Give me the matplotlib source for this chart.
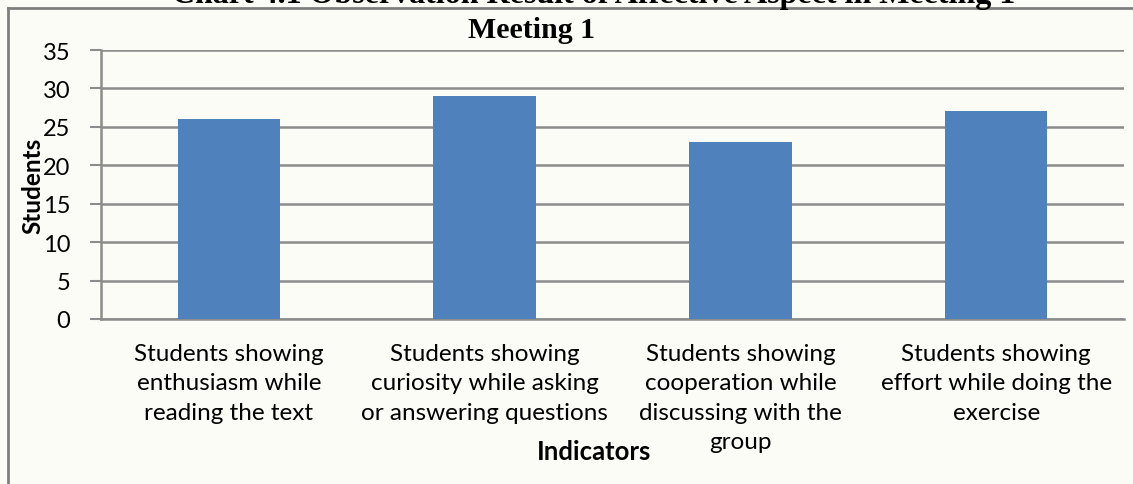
import matplotlib
matplotlib.use("Agg")
import matplotlib.pyplot as plt
from matplotlib.lines import Line2D

indicators = [
    "Students showing\nenthusiasm while\nreading the text",
    "Students showing\ncuriosity while asking\nor answering questions",
    "Students showing\ncooperation while\ndiscussing with the\ngroup",
    "Students showing\neffort while doing the\nexercise",
]
students = [26, 29, 23, 27]
yticks = [0, 5, 10, 15, 20, 25, 30, 35]

bg = "#fcfcf6"
bar_color = "#4f81bd"
grid_color = "#8c8c8c"

plt.rcParams["font.family"] = ["Lato", "DejaVu Sans"]

fig = plt.figure(figsize=(11.33, 4.85), dpi=100, facecolor=bg)
ax = fig.add_axes([101 / 1133, 1 - 320 / 485, 1023 / 1133, 269 / 485])
ax.set_facecolor(bg)

x = list(range(len(students)))
ax.bar(x, students, width=0.40, color=bar_color, zorder=3)

ax.set_xlim(-0.5, len(students) - 0.5)
ax.set_ylim(0, 35)
ax.set_yticks(yticks)
ax.yaxis.grid(True, color=grid_color, linewidth=1.8, zorder=0)
ax.set_axisbelow(True)

ax.set_xticks(x)
ax.set_xticklabels(indicators, fontsize=17.5, linespacing=1.5)
ax.tick_params(axis="x", length=0, pad=17)
ax.tick_params(axis="y", length=8, width=1.5, color=grid_color, labelsize=17, pad=14)

for side in ["top", "right"]:
    ax.spines[side].set_visible(False)
ax.spines["left"].set_color(grid_color)
ax.spines["left"].set_linewidth(1.8)
ax.spines["bottom"].set_color(grid_color)
ax.spines["bottom"].set_linewidth(1.8)

ax.set_ylabel("Students", fontsize=17.5, fontweight="bold")
ax.yaxis.set_label_coords(-0.0665, 0.5)
ax.yaxis.label.set_va("center")
ax.set_xlabel("Indicators", fontsize=18.5, fontweight="bold")
ax.xaxis.set_label_coords(0.482, -0.49)
ax.xaxis.label.set_va("center")

serif = ["Liberation Serif", "DejaVu Serif"]
fig.text(531 / 1133, 1 - 30 / 485, "Meeting 1", fontsize=21.5, fontweight="bold",
         family=serif, ha="center", va="center")
fig.text(594 / 1133, 1 - 3 / 485, "Chart 4.1 Observation Result of Affective Aspect in Meeting 1",
         fontsize=23, fontweight="bold", family=serif, ha="center", va="baseline")

# outer frame of the chart (left and top edges visible)
fig.add_artist(Line2D([8 / 1133, 8 / 1133], [0, 1 - 9 / 485], transform=fig.transFigure,
                      color="#7f7f7f", linewidth=2))
fig.add_artist(Line2D([8 / 1133, 1], [1 - 9 / 485, 1 - 9 / 485], transform=fig.transFigure,
                      color="#7f7f7f", linewidth=2))

fig.savefig("out.png", dpi=100, facecolor=bg)
